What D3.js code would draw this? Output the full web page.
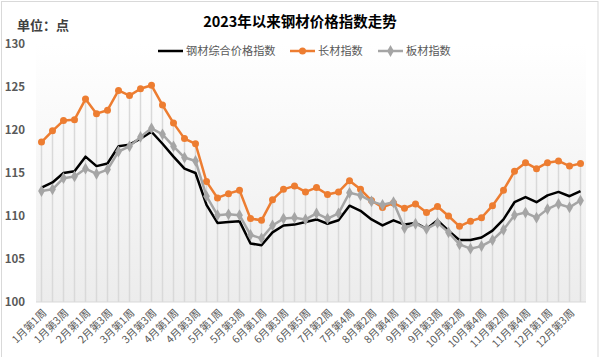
<!DOCTYPE html>
<html>
<head>
<meta charset="utf-8">
<script src="https://cdn.jsdelivr.net/npm/d3@7"></script>
<style>
html,body{margin:0;padding:0;background:#fff;}
svg{display:block;}
text{font-family:"Noto Sans CJK SC","Liberation Sans",sans-serif;}
</style>
</head>
<body>
<svg id="chart" width="600" height="357"></svg>
<script>
const weeks = ["1月第1周","1月第2周","1月第3周","1月第4周","2月第1周","2月第2周","2月第3周","2月第4周",
"3月第1周","3月第2周","3月第3周","3月第4周","4月第1周","4月第2周","4月第3周","4月第4周",
"5月第1周","5月第2周","5月第3周","5月第4周","6月第1周","6月第2周","6月第3周","6月第4周","6月第5周",
"7月第1周","7月第2周","7月第3周","7月第4周","8月第1周","8月第2周","8月第3周","8月第4周","8月第5周",
"9月第1周","9月第2周","9月第3周","9月第4周","10月第2周","10月第3周","10月第4周",
"11月第1周","11月第2周","11月第3周","11月第4周","11月第5周","12月第1周","12月第2周","12月第3周","12月第4周"];

const composite = [113.3,113.9,115.0,115.2,116.9,115.8,116.1,118.1,118.3,119.0,119.8,118.4,116.9,115.5,115.0,111.3,
109.2,109.3,109.4,106.8,106.6,108.1,108.9,109.0,109.3,109.6,109.1,109.5,111.2,110.6,109.6,108.9,109.5,109.0,
109.2,108.5,109.5,108.3,107.2,107.2,107.5,108.3,109.6,111.6,112.2,111.6,112.4,112.8,112.3,112.9];

const longProducts = [118.6,119.9,121.1,121.2,123.6,121.9,122.3,124.6,124.0,124.8,125.2,122.9,120.8,119.0,118.4,114.0,
112.1,112.6,113.0,109.7,109.5,111.9,113.1,113.5,112.8,113.3,112.5,112.8,114.1,113.1,111.8,111.0,111.5,110.9,
111.4,110.4,111.1,110.0,108.8,109.4,109.8,111.2,113.0,115.2,116.2,115.5,116.2,116.4,115.8,116.1];

const flatProducts = [112.9,113.1,114.4,114.6,115.5,114.9,115.4,117.5,118.1,119.2,120.2,119.5,118.1,116.8,116.4,112.3,
110.1,110.2,110.1,107.8,107.4,108.9,109.7,109.8,109.6,110.3,109.7,110.3,112.7,112.4,111.7,111.3,111.6,108.6,
109.1,108.5,109.2,108.1,106.7,106.2,106.5,107.2,108.4,110.1,110.4,109.8,110.8,111.4,111.0,111.8];

const yTicks = [100,105,110,115,120,125,130];
const seriesNames = ["钢材综合价格指数","长材指数","板材指数"];

const svg = d3.select("#chart");
const plot = {left:36, right:586, top:44, bottom:302};

// outer border
svg.append("rect").attr("x",1.5).attr("y",1.5).attr("width",596.5).attr("height",370)
  .attr("fill","#fff").attr("stroke","#d9d9d9").attr("stroke-width",1);

// gradient
const defs = svg.append("defs");
const grad = defs.append("linearGradient").attr("id","bg").attr("x1",0).attr("y1",0).attr("x2",0).attr("y2",1);
grad.append("stop").attr("offset","0%").attr("stop-color","#ffffff");
grad.append("stop").attr("offset","100%").attr("stop-color","#ececec");
svg.append("rect").attr("x",plot.left).attr("y",plot.top).attr("width",plot.right-plot.left)
  .attr("height",plot.bottom-plot.top).attr("fill","url(#bg)");

const x = d3.scaleBand().domain(weeks).range([plot.left, plot.right]);
const cx = d => x(d) + x.bandwidth()/2;
const y = d3.scaleLinear().domain([100,130]).range([plot.bottom, plot.top]);

// drop lines
svg.append("g").selectAll("line").data(weeks).join("line")
  .attr("x1",cx).attr("x2",cx)
  .attr("y1",(d,i)=>y(Math.max(composite[i],longProducts[i],flatProducts[i])))
  .attr("y2",plot.bottom)
  .attr("stroke","#d9d9d9").attr("stroke-width",1.5);

// x axis line
svg.append("line").attr("x1",plot.left).attr("x2",plot.right).attr("y1",plot.bottom).attr("y2",plot.bottom)
  .attr("stroke","#d9d9d9").attr("stroke-width",1);

// y axis labels
const yAxis = d3.axisLeft(y).tickValues(yTicks).tickSize(0).tickPadding(0);
const yg = svg.append("g").attr("transform","translate(25,0)").call(yAxis);
yg.select(".domain").remove();
yg.selectAll("text").attr("fill","#595959").attr("font-size","11.5px").attr("font-weight","bold")
  .attr("font-family","'Liberation Sans',sans-serif");

// x axis labels
const xAxis = d3.axisBottom(x).tickValues(weeks.filter((d,i)=>i%2===0)).tickSize(0).tickPadding(0);
const xg = svg.append("g").attr("transform",`translate(0,${plot.bottom})`).call(xAxis);
xg.select(".domain").remove();
xg.selectAll("text").attr("fill","#595959").attr("font-size","10.5px")
  .attr("text-anchor","end").attr("dy","0.35em")
  .attr("transform","translate(3,9) rotate(-45)");

// lines
const line = d3.line().x((d,i)=>cx(weeks[i])).y(d=>y(d));
svg.append("path").datum(composite).attr("d",line).attr("fill","none")
  .attr("stroke","#000").attr("stroke-width",2.5).attr("stroke-linejoin","round");
svg.append("path").datum(longProducts).attr("d",line).attr("fill","none")
  .attr("stroke","#ed7d31").attr("stroke-width",2.5).attr("stroke-linejoin","round");
svg.append("g").selectAll("circle").data(longProducts).join("circle")
  .attr("cx",(d,i)=>cx(weeks[i])).attr("cy",d=>y(d)).attr("r",3.5).attr("fill","#ed7d31");
svg.append("path").datum(flatProducts).attr("d",line).attr("fill","none")
  .attr("stroke","#a5a5a5").attr("stroke-width",2.5).attr("stroke-linejoin","round");
const diamond = d3.symbol().type(d3.symbolDiamond).size(40);
svg.append("g").selectAll("path").data(flatProducts).join("path")
  .attr("d",diamond).attr("transform",(d,i)=>`translate(${cx(weeks[i])},${y(d)})`).attr("fill","#a5a5a5");

// title
svg.append("text").attr("x",300).attr("y",27).attr("text-anchor","middle")
  .attr("font-size","14.5px").attr("font-weight","bold").attr("fill","#000")
  .text("2023年以来钢材价格指数走势");
svg.append("text").attr("x",17).attr("y",30)
  .attr("font-size","13px").attr("font-weight","bold").attr("fill","#404040")
  .text("单位：点");

// legend
const lg = svg.append("g");
const ly = 51;
const legendItems = [
  {name:seriesNames[0], color:"#000", x1:158, x2:183, tx:186, marker:null},
  {name:seriesNames[1], color:"#ed7d31", x1:290, x2:315, tx:318, marker:"circle"},
  {name:seriesNames[2], color:"#a5a5a5", x1:378, x2:403, tx:406, marker:"diamond"}
];
legendItems.forEach(it=>{
  lg.append("line").attr("x1",it.x1).attr("x2",it.x2).attr("y1",ly).attr("y2",ly)
    .attr("stroke",it.color).attr("stroke-width",2.5);
  const mx=(it.x1+it.x2)/2;
  if(it.marker==="circle") lg.append("circle").attr("cx",mx).attr("cy",ly).attr("r",3.5).attr("fill",it.color);
  if(it.marker==="diamond") lg.append("path").attr("d",diamond).attr("transform",`translate(${mx},${ly})`).attr("fill",it.color);
  lg.append("text").attr("x",it.tx).attr("y",ly).attr("dy","0.35em")
    .attr("font-size","11.2px").attr("fill","#595959").text(it.name);
});
</script>
</body>
</html>
